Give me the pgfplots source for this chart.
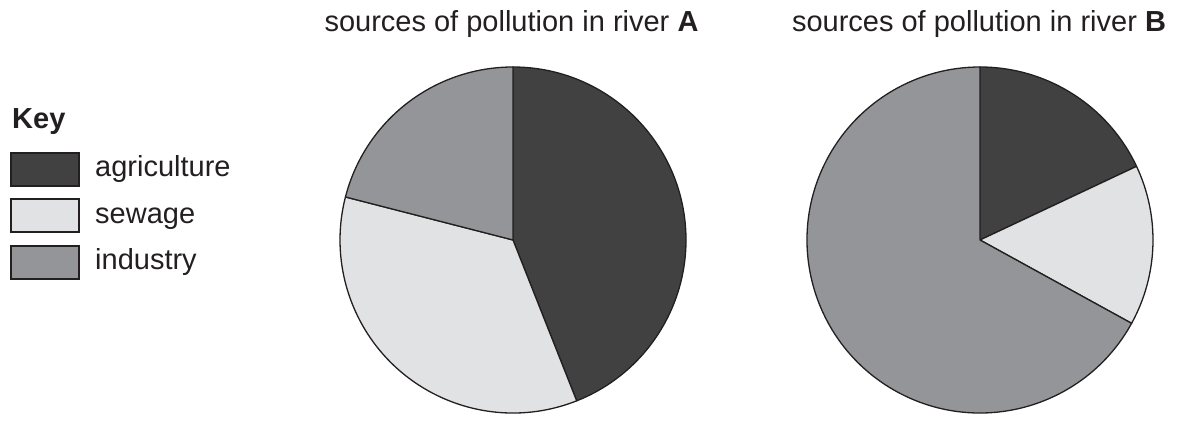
\documentclass[border=0pt]{standalone}
\usepackage{fontspec}
\setmainfont{Liberation Sans}
\usepackage{pgfplots}
\usepackage{pgfplotstable}
\pgfplotsset{compat=1.18}

\definecolor{edge}{HTML}{231F20}
\definecolor{c0}{HTML}{414142}% agriculture
\definecolor{c1}{HTML}{E1E2E3}% sewage
\definecolor{c2}{HTML}{939598}% industry

% percentage of each source, per river
\pgfplotstableread{
source      A   B
agriculture 44  18
sewage      35  15
industry    21  67
}\pollution

% start/end angles of the slices, clockwise from 12 o'clock
\newcommand\pieangles[1]{%
  \def\cum{0}%
  \pgfplotsforeachungrouped \r in {0,1,2}{%
    \pgfplotstablegetelem{\r}{#1}\of\pollution
    \pgfmathsetmacro\s{90-3.6*\cum}%
    \pgfmathsetmacro\cum{\cum+\pgfplotsretval}%
    \pgfmathsetmacro\e{90-3.6*\cum}%
    \expandafter\xdef\csname s#1\r\endcsname{\s}%
    \expandafter\xdef\csname e#1\r\endcsname{\e}%
  }%
}
\pieangles{A}
\pieangles{B}

% #1 column, #2 x of centre (centre y 174, radius 173)
\newcommand\pieslices[2]{%
  \pgfplotsinvokeforeach{0,1,2}{%
    \edef\tmp{\noexpand\filldraw[draw=edge, line width=1.3pt, line join=round, fill=c##1]
      (axis cs:#2,174) -- ++(\csname s#1##1\endcsname:173pt)
      arc[start angle=\csname s#1##1\endcsname, end angle=\csname e#1##1\endcsname, radius=173pt] -- cycle;}%
    \tmp
  }%
}

\begin{document}
\fontsize{29}{34}\selectfont
\begin{tikzpicture}
\begin{axis}[
  width=1177pt, height=414pt, scale only axis,
  xmin=0, xmax=1177, ymin=0, ymax=414,
  hide axis, clip=false,
]
  % keep the whole canvas in the bounding box
  \path (axis cs:0,0) rectangle (axis cs:1177,414);

  \pieslices{A}{513}
  \pieslices{B}{980}

  \node[anchor=base, text=edge] at (axis cs:511.5,382) {sources of pollution in river \textbf{A}};
  \node[anchor=base, text=edge] at (axis cs:979,382) {sources of pollution in river \textbf{B}};

  % key
  \node[anchor=base west, inner sep=0pt, text=edge] at (axis cs:12,285) {\textbf{Key}};
  \filldraw[draw=edge, line width=1.1pt, fill=c0] (axis cs:11,228) rectangle (axis cs:79,261);
  \filldraw[draw=edge, line width=1.1pt, fill=c1] (axis cs:11,182) rectangle (axis cs:79,215);
  \filldraw[draw=edge, line width=1.1pt, fill=c2] (axis cs:11,135) rectangle (axis cs:79,168);
  \node[anchor=base west, inner sep=0pt, text=edge] at (axis cs:95,237) {agriculture};
  \node[anchor=base west, inner sep=0pt, text=edge] at (axis cs:95,190) {sewage};
  \node[anchor=base west, inner sep=0pt, text=edge] at (axis cs:95,144) {industry};
\end{axis}
\end{tikzpicture}
\end{document}
